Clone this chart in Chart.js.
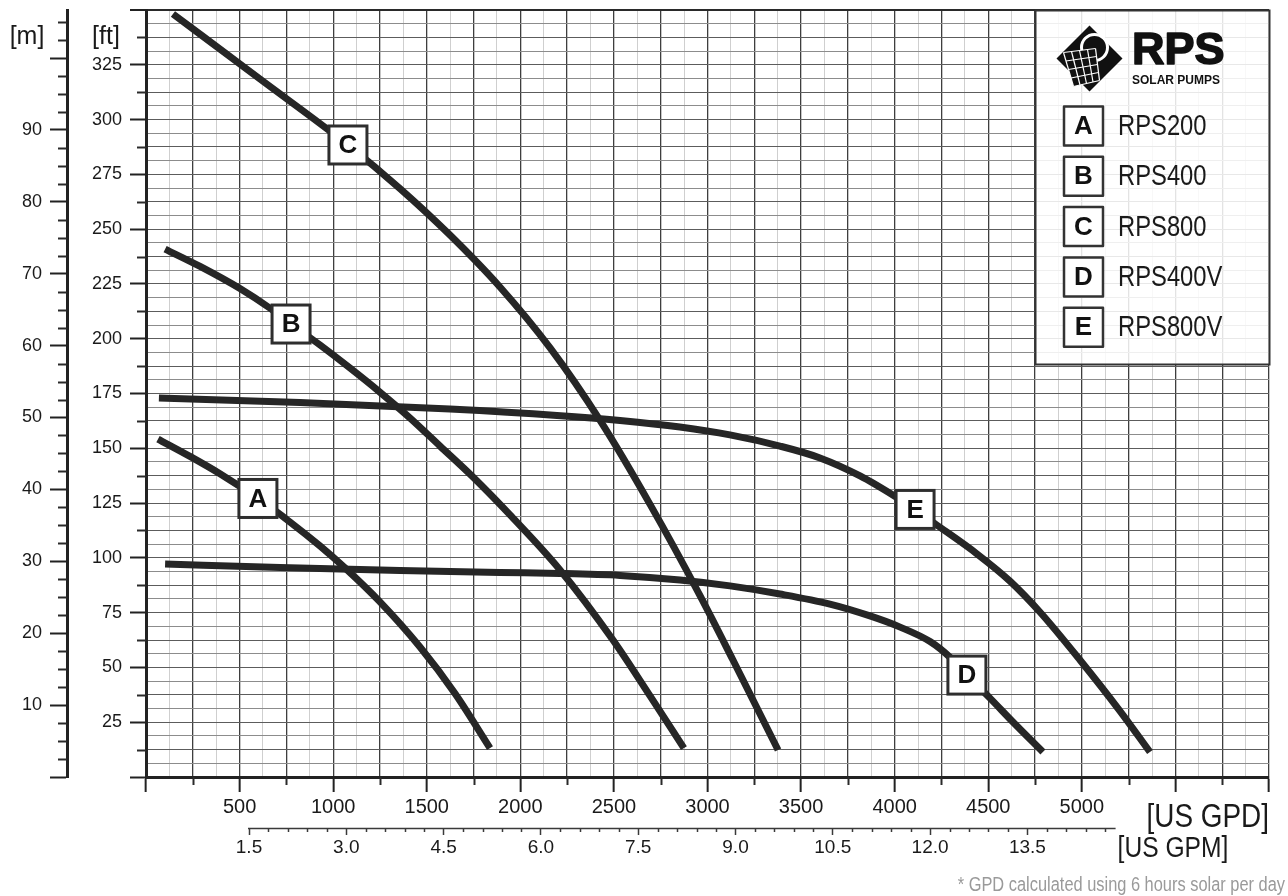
<!DOCTYPE html>
<html><head><meta charset="utf-8">
<script src="https://cdn.jsdelivr.net/npm/chart.js@4.4.1/dist/chart.umd.min.js"></script>
<style>html,body{margin:0;padding:0;background:#fff}canvas{display:block}</style>
</head><body>
<canvas id="c" width="1288" height="896"></canvas>
<script>
// ---------------- DATA ----------------
const seriesLetters = ['A', 'B', 'C', 'D', 'E'];
const seriesNames = ['RPS200', 'RPS400', 'RPS800', 'RPS400V', 'RPS800V'];

// flow [US GPD] / head [ft]
const gpdA = [64, 235, 395, 598, 769, 930, 1063, 1250, 1464, 1651, 1838];
const ftA  = [154.2, 146.3, 138.4, 127.1, 116.4, 105.4, 95.4, 79.9, 59.3, 38.1, 13.2];

const gpdB = [102, 289, 502, 663, 775, 930, 1090, 1250, 1411, 1571, 1747, 1945, 2212, 2495, 2693, 2874];
const ftB  = [240.9, 233.0, 222.9, 213.9, 206.7, 197.1, 186.6, 175.6, 163.8, 151.0, 136.9, 119.6, 94.5, 62.5, 37.0, 13.2];

const gpdC = [144, 609, 1079, 1357, 1624, 1891, 2159, 2426, 2693, 2960, 3136, 3377];
const ftC  = [348.2, 318.5, 288.4, 268.5, 247.3, 223.6, 195.8, 162.7, 124.4, 82.8, 53.4, 12.3];

const gpdD = [102, 716, 1357, 1891, 2212, 2533, 2853, 3120, 3387, 3654, 3868, 4029, 4189, 4296, 4386, 4509, 4632, 4792];
const ftD  = [97.2, 95.6, 94.2, 93.3, 92.9, 92.0, 89.9, 87.2, 83.5, 78.9, 73.5, 68.4, 61.8, 54.6, 46.5, 36.0, 25.1, 11.4];

const gpdE = [69, 823, 1624, 2196, 2533, 2853, 3120, 3387, 3601, 3815, 4007, 4109, 4210, 4440, 4616, 4776, 4990, 5204, 5364];
const ftE  = [172.9, 170.9, 167.9, 165.0, 162.7, 159.7, 156.1, 151.0, 145.6, 137.4, 127.8, 122.1, 115.9, 101.8, 89.4, 75.3, 53.4, 30.1, 11.4];

// index of the point on each curve where its letter box sits
const labelPointIndex = [3, 4, 2, 14, 11];

// axis ranges & tick labels
const gpdRange = [0, 6000];
const gpdTickLabels = [500, 1000, 1500, 2000, 2500, 3000, 3500, 4000, 4500, 5000];
const ftRange = [0, 350];
const ftTickLabels = [25, 50, 75, 100, 125, 150, 175, 200, 225, 250, 275, 300, 325];
const meterRange = [0, 350 / 3.28084];
const meterTickLabels = [10, 20, 30, 40, 50, 60, 70, 80, 90];
const gpmRange = [-0.088, 17.225];
const gpmTickLabels = [1.5, 3.0, 4.5, 6.0, 7.5, 9.0, 10.5, 12.0, 13.5];
const gpmMinorTicks = [1.5,1.8,2.1,2.4,2.7,3.0,3.3,3.6,3.9,4.2,4.5,4.8,5.1,5.4,5.7,6.0,6.3,6.6,6.9,7.2,7.5,7.8,8.1,8.4,8.7,9.0,9.3,9.6,9.9,10.2,10.5,10.8,11.1,11.4,11.7,12.0,12.3,12.6,12.9,13.2,13.5,13.8,14.1,14.4,14.7];
const gpmAxisEnd = 14.86;

// ---------------- STYLE ----------------
const REG = "'Liberation Sans', Arial, Helvetica, sans-serif";
const NARROW_OK = (() => {
  const c = document.createElement('canvas').getContext('2d');
  c.font = "40px monospace"; const w1 = c.measureText('RPS1000abc').width;
  c.font = "40px 'Liberation Sans Narrow', monospace"; const w2 = c.measureText('RPS1000abc').width;
  return Math.abs(w1 - w2) > 0.5;
})();
const NAR = NARROW_OK ? "'Liberation Sans Narrow', 'Arial Narrow', sans-serif" : REG;
const LINE = '#262626';
const TXT = '#1a1a1a';

Chart.defaults.font.family = REG;

function narrowText(ctx, text, x, y, size, align, weight, color) {
  ctx.save();
  ctx.fillStyle = color || TXT;
  ctx.textBaseline = 'middle';
  ctx.textAlign = align || 'left';
  if (NARROW_OK) {
    ctx.font = (weight || '') + ' ' + size + 'px ' + NAR;
    ctx.fillText(text, x, y);
  } else {
    ctx.font = (weight || '') + ' ' + size + 'px ' + REG;
    ctx.translate(x, y); ctx.scale(0.82, 1);
    ctx.fillText(text, 0, 0);
  }
  ctx.restore();
}

const is = (v, m) => Math.abs(v / m - Math.round(v / m)) < 1e-6;

// ---------------- PLUGINS ----------------
const minorTicksPlugin = {
  id: 'minorTicks',
  afterDraw(chart) {
    const ctx = chart.ctx;
    const sx = chart.scales.x, sy = chart.scales.y, sm = chart.scales.ym, s2 = chart.scales.x2;
    ctx.save();
    ctx.strokeStyle = '#2a2a2a';
    ctx.lineWidth = 2;
    for (let v = 12.5; v < ftRange[1]; v += 25) {
      const p = Math.round(sy.getPixelForValue(v)) + 0.5;
      ctx.beginPath(); ctx.moveTo(sy.right - 9, p); ctx.lineTo(sy.right, p); ctx.stroke();
    }
    for (let v = 2.5; v < meterRange[1]; v += 2.5) {
      if (is(v, 10)) continue;
      const p = Math.round(sm.getPixelForValue(v)) + 0.5;
      ctx.beginPath(); ctx.moveTo(sm.right - 9, p); ctx.lineTo(sm.right, p); ctx.stroke();
    }
    for (let v = 250; v < gpdRange[1]; v += 500) {
      const p = Math.round(sx.getPixelForValue(v)) + 0.5;
      ctx.beginPath(); ctx.moveTo(p, sx.top); ctx.lineTo(p, sx.top + 8); ctx.stroke();
    }
    ctx.lineWidth = 1.5; ctx.strokeStyle = '#3a3a3a';
    const y2 = s2.top + 0.5;
    ctx.beginPath(); ctx.moveTo(s2.getPixelForValue(gpmTickLabels[0]) - 1, y2); ctx.lineTo(s2.getPixelForValue(gpmAxisEnd), y2); ctx.stroke();
    gpmMinorTicks.forEach(v => {
      if (gpmTickLabels.some(m => Math.abs(m - v) < 1e-6)) return;
      const p = Math.round(s2.getPixelForValue(v)) + 0.5;
      ctx.beginPath(); ctx.moveTo(p, s2.top); ctx.lineTo(p, s2.top + 4); ctx.stroke();
    });
    ctx.restore();
  }
};

const curveLabelsPlugin = {
  id: 'curveLabels',
  afterDatasetsDraw(chart) {
    const ctx = chart.ctx;
    chart.data.datasets.forEach((ds, i) => {
      const el = chart.getDatasetMeta(i).data[labelPointIndex[i]];
      if (!el) return;
      const s = 38;
      ctx.save();
      ctx.fillStyle = '#fff';
      ctx.strokeStyle = '#2e2e2e';
      ctx.lineWidth = 3;
      ctx.fillRect(el.x - s / 2, el.y - s / 2, s, s);
      ctx.strokeRect(el.x - s / 2, el.y - s / 2, s, s);
      ctx.fillStyle = '#111';
      ctx.font = 'bold 26px ' + REG;
      ctx.textAlign = 'center'; ctx.textBaseline = 'middle';
      ctx.fillText(seriesLetters[i], el.x, el.y + 1);
      ctx.restore();
    });
  }
};

const textPlugin = {
  id: 'texts',
  afterDraw(chart) {
    const ctx = chart.ctx;
    const ca = chart.chartArea;
    ctx.save();
    ctx.fillStyle = TXT;
    ctx.font = '25px ' + REG;
    ctx.textAlign = 'center'; ctx.textBaseline = 'middle';
    ctx.fillText('[m]', chart.scales.ym.left + 27, ca.top + 27);
    ctx.fillText('[ft]', chart.scales.y.left + 39, ca.top + 27);
    ctx.restore();
    narrowText(ctx, '[US GPD]', ca.right, chart.scales.x.top + 41, 34, 'right');
    narrowText(ctx, '[US GPM]', chart.scales.x2.getPixelForValue(gpmAxisEnd) + 2, chart.scales.x2.top + 21, 30, 'left');
    narrowText(ctx, '* GPD calculated using 6 hours solar per day', 1285, 885, 20, 'right', '', '#9a9a9a');
  }
};

const legendPlugin = {
  id: 'customLegend',
  afterDraw(chart) {
    const ctx = chart.ctx;
    const ca = chart.chartArea;
    const L = ca.right - 234, T = ca.top, W = 234, H = 354;
    ctx.save();
    ctx.fillStyle = 'rgba(255,255,255,0.86)';
    ctx.fillRect(L, T, W, H);
    ctx.strokeStyle = '#333'; ctx.lineWidth = 2;
    ctx.strokeRect(L + 0.5, T + 0.5, W, H);

    // logo: diamond with sun and solar panel
    const cx = L + 54.5, cy = T + 48.5, r = 33;
    ctx.fillStyle = '#111';
    ctx.beginPath();
    ctx.moveTo(cx, cy - r); ctx.lineTo(cx + r, cy); ctx.lineTo(cx, cy + r); ctx.lineTo(cx - r, cy);
    ctx.closePath(); ctx.fill();
    ctx.strokeStyle = '#fff'; ctx.lineWidth = 3;
    ctx.beginPath(); ctx.arc(cx + 5, cy - 11, 13, 0, Math.PI * 2); ctx.stroke();
    const P = [[cx - 26, cy - 6], [cx + 6, cy - 10], [cx + 10, cy + 22], [cx - 16, cy + 28]];
    ctx.fillStyle = '#111';
    ctx.beginPath(); ctx.moveTo(...P[0]); P.slice(1).forEach(p => ctx.lineTo(...p)); ctx.closePath(); ctx.fill();
    ctx.lineWidth = 1.2; ctx.strokeStyle = '#fff';
    const lerp = (a, b, t) => [a[0] + (b[0] - a[0]) * t, a[1] + (b[1] - a[1]) * t];
    for (let k = 0; k <= 4; k++) {
      const t = k / 4;
      let a = lerp(P[0], P[1], t), b = lerp(P[3], P[2], t);
      ctx.beginPath(); ctx.moveTo(...a); ctx.lineTo(...b); ctx.stroke();
      a = lerp(P[0], P[3], t); b = lerp(P[1], P[2], t);
      ctx.beginPath(); ctx.moveTo(...a); ctx.lineTo(...b); ctx.stroke();
    }
    // RPS word mark
    ctx.fillStyle = '#111'; ctx.strokeStyle = '#111'; ctx.lineWidth = 1.6; ctx.lineJoin = 'round';
    ctx.textAlign = 'left'; ctx.textBaseline = 'alphabetic';
    ctx.font = 'bold 45px ' + REG;
    ctx.fillText('RPS', L + 97, T + 54);
    ctx.strokeText('RPS', L + 97, T + 54);
    ctx.font = 'bold 12px ' + REG;
    ctx.fillText('SOLAR PUMPS', L + 97, T + 74, 94);

    // entries
    seriesLetters.forEach((letter, i) => {
      const yc = T + 116 + i * 50.3;
      const bx = L + 29, s = 39;
      ctx.fillStyle = '#fff';
      ctx.fillRect(bx, yc - s / 2, s, s);
      ctx.strokeStyle = '#333'; ctx.lineWidth = 2.5;
      ctx.strokeRect(bx, yc - s / 2, s, s);
      ctx.fillStyle = '#111';
      ctx.font = 'bold 26px ' + REG;
      ctx.textAlign = 'center'; ctx.textBaseline = 'middle';
      ctx.fillText(letter, bx + s / 2, yc + 1);
      narrowText(ctx, seriesNames[i], L + 83, yc + 1, 29, 'left');
    });
    ctx.restore();
  }
};

// ---------------- CHART ----------------
const curves = [[gpdA, ftA], [gpdB, ftB], [gpdC, ftC], [gpdD, ftD], [gpdE, ftE]];
const zeroPad = s => { s.paddingLeft = 0; s.paddingRight = 0; s.paddingTop = 0; s.paddingBottom = 0; };

new Chart(document.getElementById('c'), {
  type: 'scatter',
  data: {
    datasets: curves.map(([xs, ys], i) => ({
      label: seriesNames[i],
      data: xs.map((x, j) => ({ x, y: ys[j] })),
      showLine: true,
      borderColor: LINE,
      borderWidth: 7,
      pointRadius: 0,
      pointHoverRadius: 0,
      cubicInterpolationMode: 'monotone',
      borderCapStyle: 'butt',
      borderJoinStyle: 'round',
      xAxisID: 'x', yAxisID: 'y'
    }))
  },
  options: {
    responsive: false,
    animation: false,
    events: [],
    layout: { padding: { left: 0, right: 19, top: 10, bottom: 28 } },
    plugins: { legend: { display: false }, tooltip: { enabled: false }, title: { display: false } },
    scales: {
      x: {
        type: 'linear', position: 'bottom', weight: 0,
        min: gpdRange[0], max: gpdRange[1],
        afterFit: s => { s.height = 51; zeroPad(s); },
        ticks: {
          stepSize: 125, autoSkip: false, maxRotation: 0, includeBounds: false, maxTicksLimit: 1000,
          padding: 3, color: TXT, font: { family: NAR, size: NARROW_OK ? 24 : 20 },
          callback: v => gpdTickLabels.includes(v) ? String(v) : ''
        },
        grid: {
          color: c => is(c.tick.value, 250) ? '#3e3e3e' : '#cfcfcf',
          lineWidth: c => is(c.tick.value, 250) ? 1.3 : 1,
          tickLength: 15, tickWidth: 2,
          tickColor: c => is(c.tick.value, 500) ? '#222' : 'rgba(0,0,0,0)'
        },
        border: { display: true, color: '#222', width: 3 }
      },
      x2: {
        type: 'linear', position: 'bottom', weight: 1,
        min: gpmRange[0], max: gpmRange[1],
        afterBuildTicks: ax => { ax.ticks = gpmTickLabels.map(v => ({ value: v })); },
        afterFit: s => { s.height = 40; zeroPad(s); },
        ticks: {
          autoSkip: false, maxRotation: 0, padding: 1, color: TXT,
          font: { family: NAR, size: NARROW_OK ? 23 : 19 },
          callback: v => v.toFixed(1)
        },
        grid: { drawOnChartArea: false, tickLength: 7, tickWidth: 1.5, tickColor: '#3a3a3a' },
        border: { display: false }
      },
      y: {
        type: 'linear', position: 'left', weight: 0,
        min: ftRange[0], max: ftRange[1],
        afterFit: s => { s.width = 79; zeroPad(s); },
        ticks: {
          stepSize: 6.25, autoSkip: false, includeBounds: false, maxTicksLimit: 1000,
          padding: 8, color: TXT, font: { size: 18 },
          callback: v => ftTickLabels.includes(v) ? String(v) : ''
        },
        grid: {
          color: c => c.tick.value >= 350 ? '#2a2a2a' : (is(c.tick.value, 12.5) ? '#5c5c5c' : '#8c8c8c'),
          lineWidth: c => c.tick.value >= 350 ? 2 : 1,
          tickLength: 16, tickWidth: 2,
          tickColor: c => is(c.tick.value, 25) ? '#222' : 'rgba(0,0,0,0)'
        },
        border: { display: true, color: '#222', width: 3 }
      },
      ym: {
        type: 'linear', position: 'left', weight: 1,
        min: meterRange[0], max: meterRange[1],
        afterFit: s => { s.width = 67; zeroPad(s); },
        ticks: {
          stepSize: 10, autoSkip: false, includeBounds: false,
          padding: 8, color: TXT, font: { size: 18 },
          callback: v => meterTickLabels.includes(v) ? String(v) : ''
        },
        grid: { drawOnChartArea: false, tickLength: 17, tickWidth: 2, tickColor: '#222' },
        border: { display: true, color: '#222', width: 3 }
      }
    }
  },
  plugins: [minorTicksPlugin, curveLabelsPlugin, textPlugin, legendPlugin]
});
</script>
</body></html>
